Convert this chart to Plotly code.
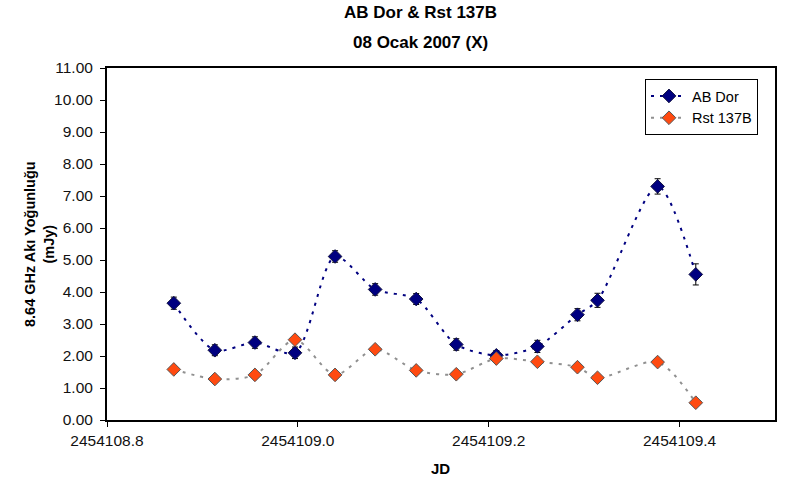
import plotly.graph_objects as go

# Data
jd_ab = [2454108.870, 2454108.913, 2454108.955, 2454108.997, 2454109.039,
         2454109.081, 2454109.124, 2454109.166, 2454109.208, 2454109.251,
         2454109.293, 2454109.314, 2454109.377, 2454109.417]
ab_dor = [3.65, 2.18, 2.42, 2.10, 5.11, 4.08, 3.78, 2.36, 2.02, 2.30,
          3.29, 3.74, 7.30, 4.55]
ab_err = [0.19, 0.17, 0.18, 0.18, 0.18, 0.18, 0.17, 0.18, 0.15, 0.19,
          0.19, 0.22, 0.24, 0.33]
jd_rst = jd_ab
rst_137b = [1.58, 1.28, 1.41, 2.51, 1.41, 2.21, 1.55, 1.43, 1.92, 1.82,
            1.65, 1.32, 1.81, 0.54]

y_ticks = [0, 1, 2, 3, 4, 5, 6, 7, 8, 9, 10, 11]
x_ticks = [2454108.8, 2454109.0, 2454109.2, 2454109.4]
x_tick_labels = ["2454108.8", "2454109.0", "2454109.2", "2454109.4"]

title_lines = ["AB Dor & Rst 137B", "08 Ocak 2007 (X)"]
y_title = "8.64 GHz Akı Yoğunluğu<br>(mJy)"
x_title = "JD"

font_family = "Liberation Sans, Arial, sans-serif"

fig = go.Figure()
fig.add_trace(go.Scatter(
    x=jd_ab, y=ab_dor, name="AB Dor", mode="lines+markers",
    line=dict(color="#000080", width=2, dash="3px,6px", shape="spline", smoothing=0.8),
    marker=dict(symbol="diamond", size=10.5, color="#000080",
                line=dict(color="#101040", width=1)),
    error_y=dict(type="data", array=ab_err, visible=True, color="black",
                 thickness=1, width=3),
))
fig.add_trace(go.Scatter(
    x=jd_rst, y=rst_137b, name="Rst 137B", mode="lines+markers",
    line=dict(color="#909090", width=2, dash="3px,6px", shape="spline", smoothing=0.8),
    marker=dict(symbol="diamond", size=10.5, color="#FF4A10",
                line=dict(color="#555555", width=1)),
))

annotations = [
    dict(text="<b>%s</b>" % title_lines[0], xref="paper", yref="paper",
         x=(420 - 107) / 668, y=1, xanchor="center", yanchor="middle",
         yshift=68 - 12, showarrow=False, font=dict(size=17, color="black")),
    dict(text="<b>%s</b>" % title_lines[1], xref="paper", yref="paper",
         x=(420 - 107) / 668, y=1, xanchor="center", yanchor="middle",
         yshift=68 - 42, showarrow=False, font=dict(size=17, color="black")),
    dict(text="<b>%s</b>" % y_title, xref="paper", yref="paper",
         x=0, y=0.5, xanchor="center", yanchor="middle", xshift=-(107 - 39),
         textangle=-90, showarrow=False, font=dict(size=14.5, color="black")),
    dict(text="<b>%s</b>" % x_title, xref="paper", yref="paper",
         x=(440 - 107) / 668, y=0, xanchor="center", yanchor="middle",
         yshift=-(468 - 420), showarrow=False, font=dict(size=15, color="black")),
]

fig.update_layout(
    width=788, height=481,
    paper_bgcolor="white", plot_bgcolor="white",
    margin=dict(l=107, r=13, t=68, b=61),
    font=dict(family=font_family, color="#000000", size=15.5),
    showlegend=True,
    legend=dict(x=(645 - 107) / 668, y=(420 - 79) / 352, xanchor="left", yanchor="top",
                bordercolor="black", borderwidth=1, bgcolor="white",
                font=dict(size=14.5, family=font_family),
                tracegroupgap=0, itemwidth=36),
    annotations=annotations,
    xaxis=dict(range=[2454108.8, 2454109.5], tickvals=x_ticks, ticktext=x_tick_labels,
               showgrid=False, zeroline=False, showline=True, linecolor="black",
               linewidth=2, mirror=True, ticks="outside", ticklen=5, tickcolor="black",
               tickfont=dict(size=15.5, color="#111111")),
    yaxis=dict(range=[0, 11], tickvals=y_ticks, tickformat=".2f",
               showgrid=False, zeroline=False, showline=True, linecolor="black",
               linewidth=2, mirror=True, ticks="outside", ticklen=5, tickcolor="black",
               ticklabelstandoff=4,
               tickfont=dict(size=15.5, color="#111111")),
)

fig.write_html("out.html")
